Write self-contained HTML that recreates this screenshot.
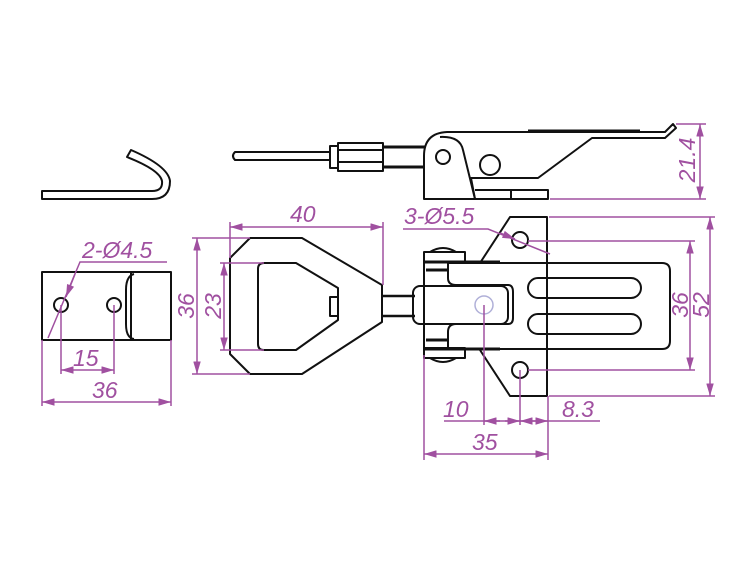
<!DOCTYPE html>
<html><head><meta charset="utf-8"><style>
html,body{margin:0;padding:0;background:#fff}
svg{display:block}
text{font-family:"Liberation Sans",sans-serif;font-style:italic;fill:#a050a0;font-size:23px}
</style></head><body>
<svg width="750" height="582" viewBox="0 0 750 582" xmlns="http://www.w3.org/2000/svg">
<defs>
<marker id="a" viewBox="0 0 10 6" refX="10" refY="3" markerWidth="10" markerHeight="5" orient="auto-start-reverse"><path d="M0,0 L10,3 L0,6 z" fill="#a050a0"/></marker>
</defs>
<g fill="none" stroke="#111" stroke-width="2" stroke-linejoin="round">
<path d="M42,191 L152,191 Q163,191 162,181 Q160,170 127,157 L131,150 Q168,166 170,181 Q170,199 152,199 L42,199 Z"/>
<path d="M330,152 L235,152 Q231,156 235,160 L330,160"/>
<rect x="330" y="146" width="8" height="22"/>
<rect x="338" y="143" width="45" height="28"/>
<line x1="338" y1="150" x2="383" y2="150"/><line x1="338" y1="162" x2="383" y2="162"/>
<line x1="383" y1="147" x2="425" y2="147" stroke-width="3"/><line x1="383" y1="167" x2="425" y2="167" stroke-width="3"/>
<path d="M424,199 L424,156 Q424,133 447,132 L665,132 L673,124 L676,128 L665,138 L592,138 L538,178 L471,178 L475,199 Z"/>
<path d="M424,199 L548,199 L548,190 L475,190"/><line x1="511" y1="190" x2="511" y2="199"/>
<path d="M440,137 Q460,136 463,150 L475,199"/>
<line x1="528" y1="131" x2="640" y2="131" stroke-width="3"/>
<circle cx="443" cy="157" r="7"/><circle cx="490" cy="165" r="10"/>
<rect x="42" y="272" width="129" height="68"/>
<line x1="131" y1="272" x2="131" y2="340"/>
<path d="M134,274 Q126,276 126,290 L126,324 Q126,338 134,339"/>
<circle cx="61" cy="305" r="7"/><circle cx="114" cy="305" r="7"/>
<path d="M250,238 L302,238 L382,285 L382,322 L302,374 L250,374 L230,354 L230,258 Z"/>
<path d="M264,263 L296,263 L338,288 L338,320 L296,350 L264,350 Q258,350 258,344 L258,269 Q258,263 264,263 Z"/>
<rect x="330" y="297" width="8" height="19"/>
<line x1="383" y1="296" x2="415" y2="296" stroke-width="2.5"/><line x1="383" y1="316" x2="415" y2="316" stroke-width="2.5"/>
<path d="M480,263 L510,217 L547,217 L547,396 L510,396 L480,350"/>
<circle cx="520" cy="240" r="8"/><circle cx="520" cy="370" r="8"/>
<path d="M448,263 L662,263 Q670,263 670,271 L670,341 Q670,349 662,349 L448,349"/>
<rect x="528" y="278" width="113" height="20" rx="10"/>
<rect x="528" y="314" width="113" height="20" rx="10"/>
<path d="M448,263 L448,278 Q448,285 456,285 L508,285 Q513,285 513,292 L513,318 Q513,324 508,324 L456,324 Q448,324 448,332 L448,349"/>
<rect x="413" y="286" width="95" height="38" rx="7"/>
<path d="M430,252 Q443,244 456,252"/><path d="M430,358 Q443,366 456,358"/>
<rect x="424" y="252" width="41" height="10"/><rect x="424" y="348" width="41" height="10"/>
<line x1="424" y1="262" x2="424" y2="348"/>
<line x1="424" y1="262" x2="500" y2="262" stroke-width="3"/><line x1="424" y1="349" x2="500" y2="349" stroke-width="3"/>
<line x1="426" y1="270" x2="448" y2="270" stroke-width="3"/><line x1="426" y1="340" x2="448" y2="340" stroke-width="3"/>
</g>
<circle cx="484" cy="305" r="9" fill="none" stroke="#b0b0d8" stroke-width="1.5"/>
<g fill="none" stroke="#a050a0" stroke-width="1.5">
<line x1="676" y1="124" x2="706" y2="124"/><line x1="550" y1="199" x2="706" y2="199"/>
<line x1="700" y1="124" x2="700" y2="199" marker-start="url(#a)" marker-end="url(#a)"/>
<line x1="42" y1="340" x2="42" y2="406"/><line x1="171" y1="340" x2="171" y2="406"/>
<line x1="42" y1="402" x2="171" y2="402" marker-start="url(#a)" marker-end="url(#a)"/>
<line x1="61" y1="305" x2="61" y2="374"/><line x1="114" y1="305" x2="114" y2="374"/>
<line x1="61" y1="370" x2="114" y2="370" marker-start="url(#a)" marker-end="url(#a)"/>
<polyline points="167,262 80,262 48,338"/>
<line x1="75" y1="274" x2="66" y2="297" marker-end="url(#a)"/>
<line x1="230" y1="258" x2="230" y2="222"/><line x1="383" y1="285" x2="383" y2="222"/>
<line x1="230" y1="227" x2="383" y2="227" marker-start="url(#a)" marker-end="url(#a)"/>
<line x1="192" y1="238" x2="250" y2="238"/><line x1="192" y1="374" x2="250" y2="374"/>
<line x1="197" y1="238" x2="197" y2="374" marker-start="url(#a)" marker-end="url(#a)"/>
<line x1="220" y1="263" x2="264" y2="263"/><line x1="220" y1="350" x2="264" y2="350"/>
<line x1="224" y1="263" x2="224" y2="350" marker-start="url(#a)" marker-end="url(#a)"/>
<line x1="549" y1="217" x2="715" y2="217"/><line x1="549" y1="396" x2="715" y2="396"/>
<line x1="710" y1="217" x2="710" y2="396" marker-start="url(#a)" marker-end="url(#a)"/>
<line x1="528" y1="241" x2="695" y2="241"/><line x1="528" y1="370" x2="695" y2="370"/>
<line x1="690" y1="241" x2="690" y2="370" marker-start="url(#a)" marker-end="url(#a)"/>
<polyline points="403,229 488,229 550,254"/>
<line x1="500" y1="233" x2="515" y2="239" marker-end="url(#a)"/>
<line x1="484" y1="305" x2="484" y2="425"/><line x1="520" y1="370" x2="520" y2="425"/>
<line x1="548" y1="396" x2="548" y2="460"/><line x1="424" y1="355" x2="424" y2="460"/>
<line x1="444" y1="421" x2="600" y2="421"/>
<line x1="505" y1="421" x2="520" y2="421" marker-end="url(#a)"/><line x1="500" y1="421" x2="484" y2="421" marker-end="url(#a)"/>
<line x1="534" y1="421" x2="548" y2="421" marker-end="url(#a)"/><line x1="534" y1="421" x2="520" y2="421" marker-end="url(#a)"/>
<line x1="424" y1="454" x2="548" y2="454" marker-start="url(#a)" marker-end="url(#a)"/>
</g>
<text transform="translate(695,160) rotate(-90)" text-anchor="middle">21.4</text>
<text x="82" y="258">2-Ø4.5</text>
<text x="73" y="366">15</text>
<text x="92" y="398">36</text>
<text x="290" y="222">40</text>
<text x="404" y="224">3-Ø5.5</text>
<text x="443" y="417">10</text>
<text x="562" y="417">8.3</text>
<text x="472" y="450">35</text>
<text transform="translate(194,306) rotate(-90)" text-anchor="middle">36</text>
<text transform="translate(221,306) rotate(-90)" text-anchor="middle">23</text>
<text transform="translate(688,305) rotate(-90)" text-anchor="middle">36</text>
<text transform="translate(709,305) rotate(-90)" text-anchor="middle">52</text>
</svg>
</body></html>
